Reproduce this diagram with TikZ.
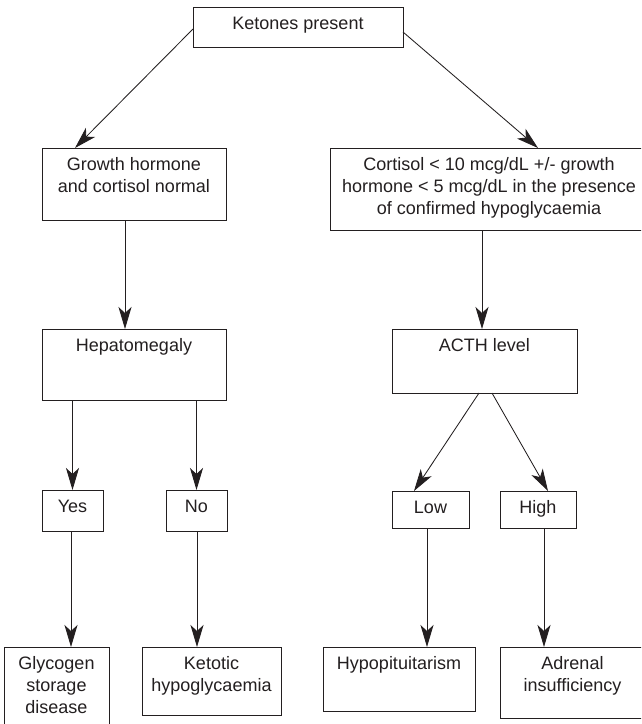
\documentclass[tikz,border=0pt]{standalone}
\usepackage{fontspec}
\setmainfont{Liberation Sans}
\usetikzlibrary{arrows.meta}
\definecolor{ink}{RGB}{35,31,32}

\tikzset{
  box/.style={draw=ink, line width=1pt, inner sep=0pt, outer sep=0pt},
  lbl/.style={anchor=north, inner sep=0pt, align=center, text=ink,
    font=\fontsize{18pt}{22pt}\selectfont},
  arr/.style={draw=ink, line width=0.85pt,
    -{Stealth[length=22pt, width=13pt, inset=6pt]}}
}

% \flowbox{name}{x}{y}{width}{height}{label}: a box centred at (x,y), label set near its top
\newcommand\flowbox[6]{%
  \node[box, minimum width=#4pt, minimum height=#5pt] (#1) at (#2,#3) {};
  \node[lbl] (#1-t) at ([yshift=-9.5pt]#1.north) {#6};
}

\begin{document}
\begin{tikzpicture}[x=1pt, y=-1pt]
  \clip (0,0) rectangle (641,724);
  \fill[white] (0,0) rectangle (641,724);

  \flowbox{ket}{298}{27}{210}{40}{Ketones present}
  \flowbox{gh}{134}{184}{184}{72}{Growth hormone\\and cortisol normal}
  \flowbox{cort}{489}{189}{318}{82}{Cortisol < 10 mcg/dL +/- growth\\hormone < 5 mcg/dL in the presence\\of confirmed hypoglycaemia}
  \flowbox{hep}{134}{364.5}{184}{71}{Hepatomegaly}
  \flowbox{acth}{484.5}{361}{185}{64}{ACTH level}
  \flowbox{yes}{72.5}{510.5}{61}{41}{Yes}
  \flowbox{no}{196.5}{510.5}{61}{41}{No}
  \flowbox{low}{430.5}{509.5}{77}{37}{Low}
  \flowbox{high}{538}{509.5}{76}{37}{High}
  \flowbox{gly}{56.5}{688.5}{105}{83}{Glycogen\\storage\\disease}
  \flowbox{kh}{211.5}{681}{139}{68}{Ketotic\\hypoglycaemia}
  \flowbox{hypo}{399}{679}{152}{64}{Hypopituitarism}
  \flowbox{adr}{572.5}{682.5}{145}{71}{Adrenal\\insufficiency}

  % first split
  \draw[arr] ([yshift=-2pt]ket.west) -- ([xshift=-59pt]gh.north);
  \draw[arr] ([yshift=-5pt]ket.east) -- ([xshift=49pt]cort.north);

  % second level
  \draw[arr] ([xshift=-9pt]gh.south) coordinate (g1) -- (g1 |- hep.north);
  \draw[arr] ([xshift=-7pt]cort.south) coordinate (c1) -- (c1 |- acth.north);

  % hepatomegaly branch
  \draw[arr] (yes.north |- hep.south) -- (yes.north);
  \draw[arr] (no.north |- hep.south) -- (no.north);

  % ACTH branch
  \draw[arr] ([xshift=-5.5pt]acth.south) -- ([xshift=-16.5pt]low.north);
  \draw[arr] ([xshift=7.5pt]acth.south) -- ([xshift=10pt]high.north);

  % outcomes
  \draw[arr] ([xshift=-1.5pt]yes.south) coordinate (y1) -- (y1 |- gly.north);
  \draw[arr] ([xshift=0.5pt]no.south) coordinate (n1) -- (n1 |- kh.north);
  \draw[arr] ([xshift=-3.5pt]low.south) coordinate (l1) -- (l1 |- hypo.north);
  \draw[arr] ([xshift=6pt]high.south) coordinate (h1) -- (h1 |- adr.north);
\end{tikzpicture}
\end{document}
